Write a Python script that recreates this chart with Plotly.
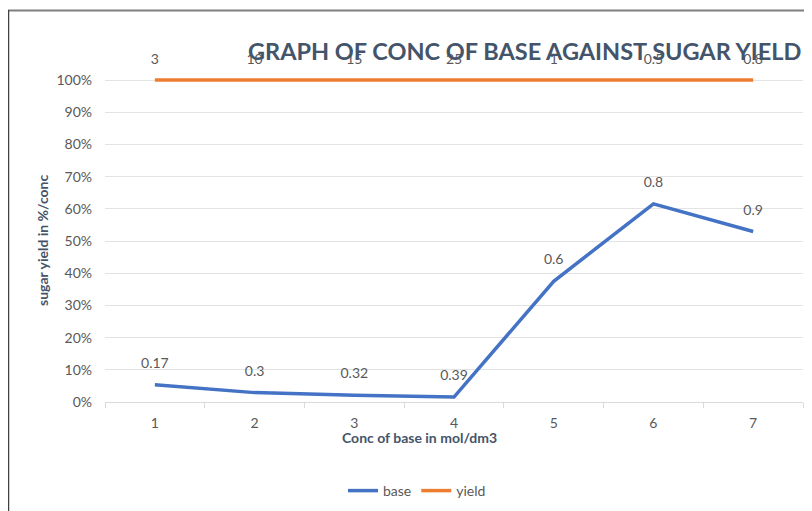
import plotly.graph_objects as go

conc = [1, 2, 3, 4, 5, 6, 7]
base = [0.17, 0.3, 0.32, 0.39, 0.6, 0.8, 0.9]
yield_ = [3, 10, 15, 25, 1, 0.5, 0.8]
ytick_vals = [0, 10, 20, 30, 40, 50, 60, 70, 80, 90, 100]
ytick_text = ["0%", "10%", "20%", "30%", "40%", "50%", "60%", "70%", "80%", "90%", "100%"]

# page offset of the plotly div (body margin)
OFF = 8
PAD = 4  # extra room above 100% so the top line is not clipped
W, H = 812 - OFF, 511 - OFF
L, R, T, B = 105 - OFF, 9, 80 - OFF - PAD, 109
pw, ph = W - L - R, H - T - B
YTOP = 100 * ph / (ph - PAD)

def px(x):
    return (x - OFF - L) / pw

def py(y):
    return 1 - (y - OFF - T) / ph

FONT = "Lato"
GREY = "#595959"

fig = go.Figure()
fig.add_trace(go.Scatter(
    x=conc, y=base, name="base", stackgroup="s", groupnorm="percent", fill="none",
    mode="lines+markers+text", text=[str(v) for v in base], textposition="top center",
    textfont=dict(family=FONT, size=14, color=GREY),
    line=dict(color="#4472C4", width=3.5), marker=dict(size=20, color="rgba(0,0,0,0)"),
    cliponaxis=False, hoverinfo="skip"))
fig.add_trace(go.Scatter(
    x=conc, y=yield_, name="yield", stackgroup="s", fill="none",
    mode="lines+markers+text", text=[str(v) for v in yield_], textposition="top center",
    textfont=dict(family=FONT, size=14, color=GREY),
    line=dict(color="#ED7D31", width=3.5), marker=dict(size=18, color="rgba(0,0,0,0)"),
    cliponaxis=False, hoverinfo="skip"))

fig.update_layout(
    width=W, height=H, margin=dict(l=L, r=R, t=T, b=B, autoexpand=False),
    paper_bgcolor="white", plot_bgcolor="white",
    font=dict(family=FONT, color=GREY, size=13),
    showlegend=True,
    legend=dict(orientation="h", x=px(417), xanchor="center", y=py(491), yanchor="middle",
                font=dict(family=FONT, size=14, color=GREY), itemwidth=30,
                tracegroupgap=0, bgcolor="rgba(0,0,0,0)", traceorder="normal"),
    xaxis=dict(range=[0.5, 7.5], tickvals=conc, ticktext=[str(c) for c in conc],
               showgrid=False, zeroline=False, showline=True, linecolor="#D9D9D9", linewidth=1,
               ticks="", tickfont=dict(family=FONT, size=14, color=GREY), ticklabelstandoff=8,
               minor=dict(tickvals=[0.5, 1.5, 2.5, 3.5, 4.5, 5.5, 6.5, 7.5], ticks="outside",
                          ticklen=5, tickcolor="#D9D9D9", showgrid=False)),
    yaxis=dict(range=[0, YTOP], tickvals=ytick_vals, ticktext=ytick_text,
               showgrid=True, gridcolor="#E3E3E3", gridwidth=1, zeroline=False, showline=False,
               tickfont=dict(family=FONT, size=14, color=GREY), ticklabelstandoff=12),
    annotations=[
        dict(text="<b>GRAPH OF CONC OF BASE AGAINST SUGAR YIELD</b>", xref="paper", yref="paper",
             x=px(524), y=py(51), xanchor="center", yanchor="middle", showarrow=False,
             font=dict(family=FONT, size=23.5, color="#44546A")),
        dict(text="<b>sugar yield in %/conc</b>", xref="paper", yref="paper", textangle=-90,
             x=px(42), y=py(240), xanchor="center", yanchor="middle", showarrow=False,
             font=dict(family=FONT, size=14, color="#44546A")),
        dict(text="<b>Conc of base in mol/dm3</b>", xref="paper", yref="paper",
             x=px(419), y=py(437), xanchor="center", yanchor="middle", showarrow=False,
             font=dict(family=FONT, size=14, color="#44546A")),
    ],
    shapes=[
        dict(type="line", xref="paper", yref="paper", x0=px(8), x1=px(812), y0=py(10.5), y1=py(10.5),
             line=dict(color="#7F7F7F", width=2)),
        dict(type="line", xref="paper", yref="paper", x0=px(8.5), x1=px(8.5), y0=py(10), y1=py(511),
             line=dict(color="#404040", width=1.5)),
    ],
)

fig.write_html("out.html")
